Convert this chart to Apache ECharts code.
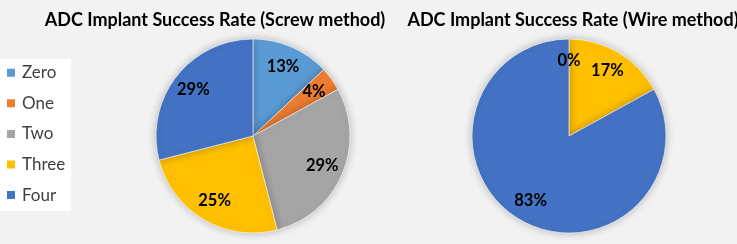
<!DOCTYPE html>
<html style="height: 100%">
<head>
    <script src="https://cdn.jsdelivr.net/npm/echarts@6/dist/echarts.min.js"></script>
</head>
<body style="height: 100%; margin: 0">
    <div id="main" style="width: 737px; height: 244px"></div>
    <script type="text/javascript">
    var chartDom = document.getElementById('main');
    var myChart = echarts.init(chartDom);

    var categories = ['Zero', 'One', 'Two', 'Three', 'Four'];
    var colors = ['#5B9BD5', '#ED7D31', '#A5A5A5', '#FFC000', '#4472C4'];
    // percentages shown on the slices
    var screwValues = [13, 4, 29, 25, 29];
    var wireNames = ['Zero', 'Three', 'Four'];
    var wireValues = [0, 17, 83];
    var titles = ['ADC Implant Success Rate (Screw method)', 'ADC Implant Success Rate (Wire method)'];

    var font = 'Lato';

    function makeData(names, values) {
        return names.map(function (n, i) {
            return { name: n, value: values[i], itemStyle: { color: colors[categories.indexOf(n)] } };
        });
    }

    // base pie (no labels) + transparent ring carrying the labels further out
    function pies(center, data) {
        return [
            {
                type: 'pie',
                center: center,
                radius: [0, 97],
                startAngle: 90,
                label: { show: false },
                labelLine: { show: false },
                itemStyle: { borderColor: '#fff', borderWidth: 0.6, shadowBlur: 8, shadowColor: 'rgba(0,0,0,0.25)' },
                emphasis: { disabled: true },
                data: data
            },
            {
                type: 'pie',
                center: center,
                radius: [48, 97],
                startAngle: 90,
                silent: true,
                itemStyle: { color: 'transparent' },
                label: {
                    show: true, position: 'inside', formatter: '{c}%',
                    color: '#000', fontWeight: 'bold', fontSize: 16.5, fontFamily: font
                },
                labelLine: { show: false },
                emphasis: { disabled: true },
                data: data.map(function (d) { return { name: d.name, value: d.value, itemStyle: { color: 'transparent' } }; })
            }
        ];
    }

    var screwData = makeData(categories, screwValues);
    var wireData = makeData(wireNames, wireValues);

    var option = {
        backgroundColor: '#f2f2f2',
        animation: false,
        title: [
            { text: titles[0], left: 210, top: 1, textAlign: 'center',
              textStyle: { fontFamily: font, fontWeight: 'bold', fontSize: 18, color: '#000' } },
            { text: titles[1], left: 568, top: 1, textAlign: 'center',
              textStyle: { fontFamily: font, fontWeight: 'bold', fontSize: 18, color: '#000' } }
        ],
        legend: {
            orient: 'vertical',
            left: 0,
            top: 59,
            data: categories,
            backgroundColor: '#fff',
            padding: [1, 6, 3, 5],
            itemWidth: 10,
            itemHeight: 10,
            itemGap: 5,
            icon: 'rect',
            selectedMode: false,
            textStyle: { fontFamily: font, fontSize: 17, color: '#404040', padding: [0, 0, 0, 1] }
        },
        series: pies([253, 136], screwData).concat(pies([569, 136], wireData))
    };

    myChart.setOption(option);
    </script>
</body>
</html>
